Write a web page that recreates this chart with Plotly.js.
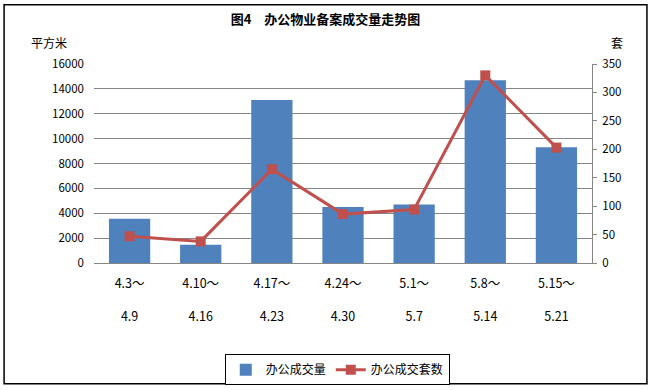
<!DOCTYPE html>
<html>
<head>
<meta charset="utf-8">
<script src="https://cdn.plot.ly/plotly-3.0.1.min.js"></script>
<style>
html,body{margin:0;padding:0;background:#fff;}
#chart{width:651px;height:390px;}
</style>
</head>
<body>
<div id="chart"></div>
<script>
// Data
const startLabels = ['4.3～','4.10～','4.17～','4.24～','5.1～','5.8～','5.15～'];
const endLabels = ['4.9','4.16','4.23','4.30','5.7','5.14','5.21'];
const areaValues = [3560, 1470, 13100, 4500, 4700, 14700, 9300];
const unitValues = [47, 38, 165, 86, 94, 330, 203];
const barName = '办公成交量';
const lineName = '办公成交套数';
const titleText = '<b>图4　办公物业备案成交量走势图</b>';
const leftUnit = '平方米';
const rightUnit = '套';

const W = 651, H = 390;
const L = 93.5, R = 592, T = 64.3, B = 263.3;
const cats = startLabels.map((s, i) => i);
const tickText = startLabels.map((s, i) => s + '<br> <br>' + endLabels[i]);

const px2x = v => (v - L) / (R - L);
const px2y = v => (B - v) / (B - T);

const font = "'Noto Sans CJK SC', 'DejaVu Sans', sans-serif";

const traces = [
  {
    type: 'bar', x: cats, y: areaValues, name: barName,
    marker: {color: '#4F81BD'}, yaxis: 'y'
  },
  {
    type: 'scatter', mode: 'lines+markers', x: cats, y: unitValues, name: lineName,
    line: {color: '#C0504D', width: 3},
    marker: {symbol: 'square', size: 10, color: '#C0504D'}, yaxis: 'y2'
  }
];

const layout = {
  width: W, height: H,
  margin: {l: L, r: W - R, t: T, b: H - B, pad: 0, autoexpand: false},
  paper_bgcolor: '#fff', plot_bgcolor: '#fff',
  font: {family: font, size: 12, color: '#000'},
  bargap: 0.42,
  showlegend: true,
  title: {
    text: titleText, font: {family: font, size: 13, color: '#000'},
    x: 0.5, xref: 'container', y: 1 - 19 / H, yref: 'container', yanchor: 'middle'
  },
  xaxis: {
    tickmode: 'array', tickvals: cats, ticktext: tickText, automargin: false,
    range: [-0.5, 6.5], showgrid: false, zeroline: false,
    showline: true, linecolor: '#868686', linewidth: 1,
    ticks: '', ticklabelstandoff: 9,
    tickfont: {family: font, size: 12.5, color: '#000'}
  },
  yaxis: {
    range: [0, 16000], dtick: 2000, tick0: 0, automargin: false,
    tickformat: 'd',
    showgrid: true, gridcolor: '#868686', gridwidth: 1,
    zeroline: false, showline: false, ticks: '',
    ticklabelstandoff: 9,
    tickfont: {family: font, size: 11.5, color: '#000'}
  },
  yaxis2: {
    overlaying: 'y', side: 'right', range: [0, 350], dtick: 50, tick0: 0, automargin: false,
    showgrid: false, zeroline: false, showline: true, linecolor: '#868686', linewidth: 1,
    ticks: 'outside', ticklen: 4, tickcolor: '#868686',
    ticklabelstandoff: 3,
    tickfont: {family: font, size: 11.5, color: '#000'}
  },
  legend: {
    orientation: 'h', x: px2x(337), xanchor: 'center', y: px2y(370), yanchor: 'middle',
    bordercolor: '#000', borderwidth: 1, bgcolor: '#fff',
    font: {family: font, size: 12, color: '#000'},
    itemwidth: 30, tracegroupgap: 0
  },
  annotations: [
    {text: leftUnit, xref: 'paper', yref: 'paper', x: px2x(48), y: px2y(43),
     xanchor: 'center', yanchor: 'middle', showarrow: false,
     font: {family: font, size: 12, color: '#000'}},
    {text: rightUnit, xref: 'paper', yref: 'paper', x: px2x(617), y: px2y(43),
     xanchor: 'center', yanchor: 'middle', showarrow: false,
     font: {family: font, size: 12, color: '#000'}}
  ],
  shapes: [
    {type: 'rect', xref: 'paper', yref: 'paper', layer: 'above',
     x0: px2x(3.5), x1: px2x(647), y0: px2y(5), y1: px2y(384),
     line: {color: '#000', width: 1.5}, fillcolor: 'rgba(0,0,0,0)'}
  ]
};

Plotly.newPlot('chart', traces, layout, {displayModeBar: false, staticPlot: true});
</script>
</body>
</html>
